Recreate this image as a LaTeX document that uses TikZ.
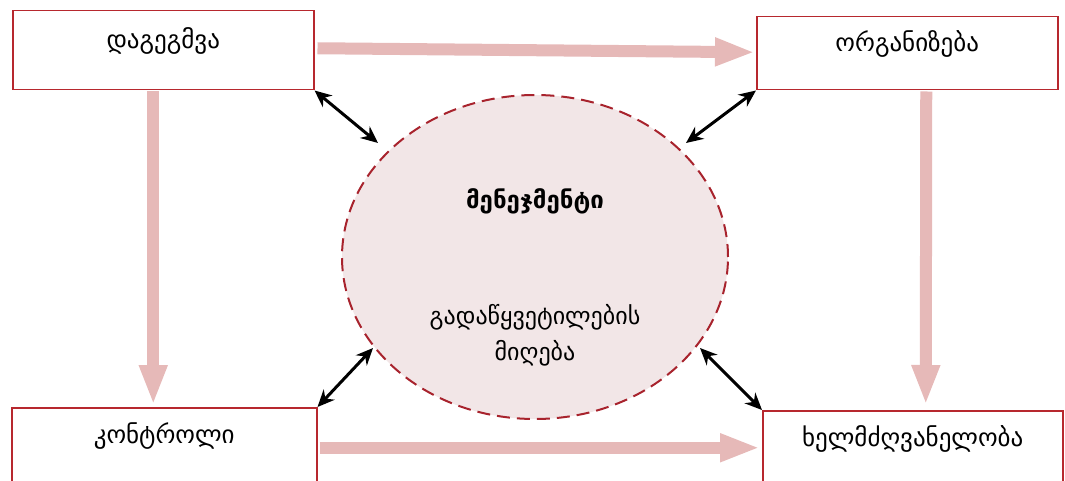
\documentclass[tikz,border=0pt]{standalone}
\usepackage{fontspec}
\setmainfont{DejaVu Sans}
\newfontfamily\geo[Script=Georgian]{DejaVu Sans}
\usetikzlibrary{arrows.meta,calc,shapes.geometric}
\definecolor{boxred}{HTML}{B7282E}
\definecolor{pinkarrow}{HTML}{E6B9B8}
\definecolor{circfill}{HTML}{F2E6E7}
\definecolor{circline}{HTML}{A8232D}
\tikzset{
  box/.style={draw=boxred, line width=1.5pt, fill=white, rectangle, anchor=north west, inner sep=0pt},
  lbl/.style={font=\geo\fontsize{25}{28}\selectfont, inner sep=0pt},
  bigarrow/.style={draw=pinkarrow, line width=12pt, -{Triangle[length=40pt,width=26pt]}},
  twoway/.style={draw=black, line width=3pt, {Stealth[length=17pt,width=15pt]}-{Stealth[length=17pt,width=15pt]}},
}
\begin{document}
\begin{tikzpicture}[x=1pt,y=-1pt]
\useasboundingbox (0,0) rectangle (1065,481);
\clip (0,0) rectangle (1065,481);
% circle
\node[draw=circline, fill=circfill, line width=2pt, dash pattern=on 13pt off 7pt,
      ellipse, minimum width=386, minimum height=324, inner sep=0pt] (mgmt) at (535,257) {};
\node[font=\geo\bfseries\fontsize{24}{28}\selectfont, inner sep=0pt] (title) at (535,201) {მენეჯმენტი};
\node[lbl, align=center, font=\geo\fontsize{24}{36}\selectfont] (dec) at (535,335) {გადაწყვეტილების\\მიღება};
% boxes
\node[box, minimum width=301, minimum height=79] (plan) at (12,10) {};
\node[box, minimum width=301, minimum height=73] (org) at (756,16) {};
\node[box, minimum width=305, minimum height=80] (ctrl) at (11,407) {};
\node[box, minimum width=300, minimum height=80] (lead) at (762,410) {};
\node[lbl] (planT) at ($(plan.north)+(0,31)$) {დაგეგმვა};
\node[lbl] (orgT) at ($(org.north)+(0,28)$) {ორგანიზება};
\node[lbl] (ctrlT) at ($(ctrl.north)+(0,29)$) {კონტროლი};
\node[lbl] (leadT) at ($(lead.north)+(0,29)$) {ხელმძღვანელობა};
% pink arrows
\draw[bigarrow] ($(plan.east)+(3,-2)$) -- ($(org.west)+(-1,-1)$);
\draw[bigarrow] ($(plan.south)+(-10,1)$) -- ($(ctrl.north)+(-11,-2)$);
\draw[bigarrow] ($(org.south)+(19,1)$) -- ($(lead.north)+(13,-5)$);
\draw[bigarrow] ($(ctrl.east)+(2,0)$) -- ($(lead.west)+(-2,-3)$);
% black arrows
\coordinate (c1) at (378,143);
\coordinate (c2) at (686,143);
\coordinate (c3) at (373,348);
\coordinate (c4) at (700,348);
\draw[twoway] (plan.south east) -- (c1);
\draw[twoway] (org.south west) -- (c2);
\draw[twoway] (ctrl.north east) -- (c3);
\draw[twoway] (lead.north west) -- (c4);
\end{tikzpicture}
\end{document}
